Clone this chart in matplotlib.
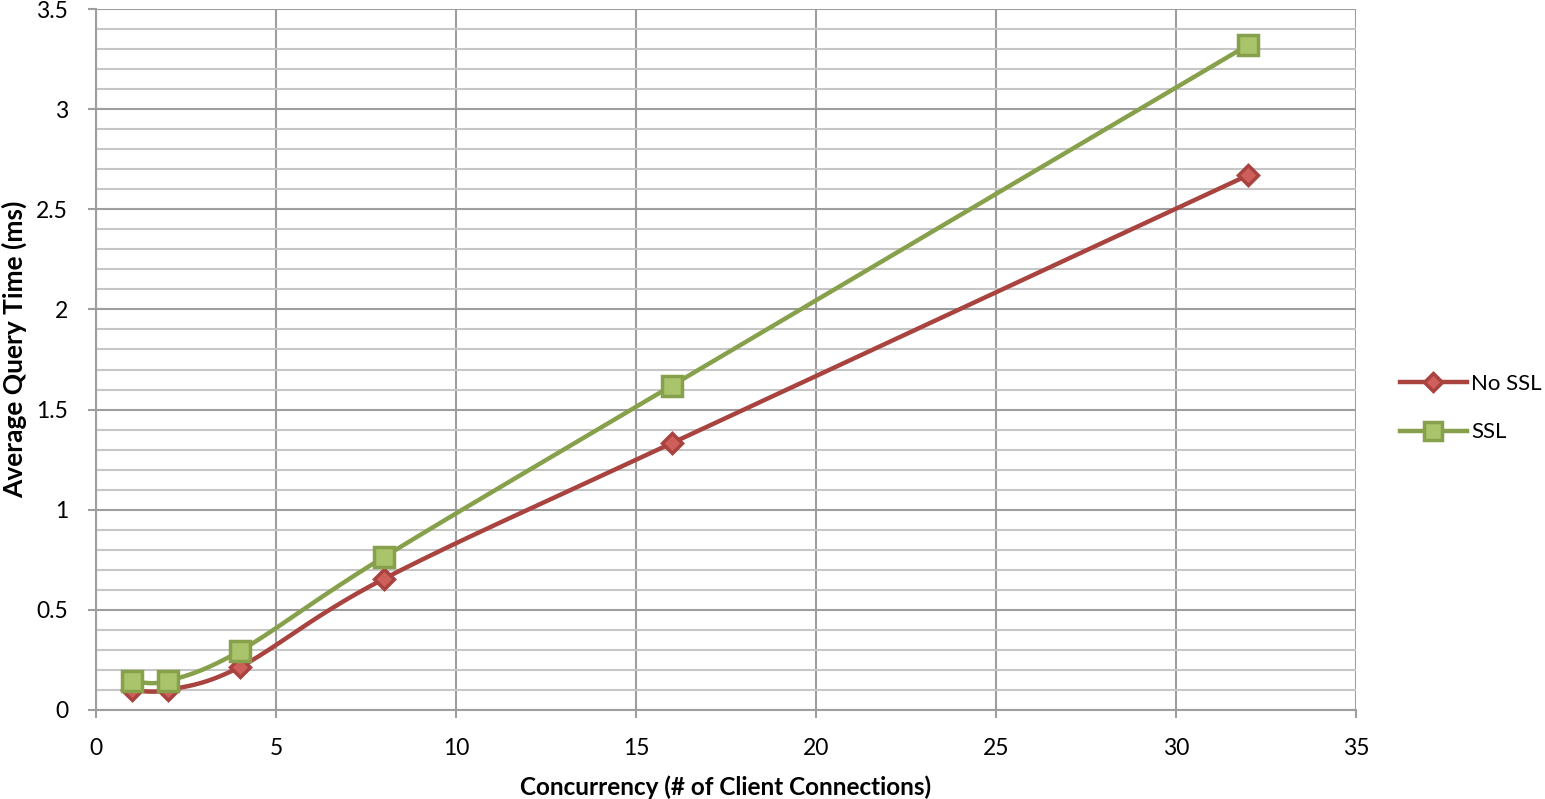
import numpy as np
import matplotlib
matplotlib.use('Agg')
import matplotlib.pyplot as plt
from matplotlib.lines import Line2D

plt.rcParams['font.family'] = ['Lato', 'DejaVu Sans']

concurrency = [1, 2, 4, 8, 16, 32]
no_ssl = [0.10, 0.10, 0.215, 0.655, 1.333, 2.67]
ssl = [0.145, 0.145, 0.295, 0.764, 1.62, 3.32]

def smooth(xs, ys, n=30):
    # Excel-style smoothed line: cubic bezier with catmull-rom control points
    p = np.column_stack([xs, ys]).astype(float)
    out = [p[0]]
    for i in range(len(p) - 1):
        p0 = p[i - 1] if i > 0 else p[i]
        p3 = p[i + 2] if i + 2 < len(p) else p[i + 1]
        c1 = p[i] + (p[i + 1] - p0) / 6.0
        c2 = p[i + 1] - (p3 - p[i]) / 6.0
        t = np.linspace(0, 1, n)[1:, None]
        seg = ((1 - t) ** 3 * p[i] + 3 * (1 - t) ** 2 * t * c1
               + 3 * (1 - t) * t ** 2 * c2 + t ** 3 * p[i + 1])
        out.extend(seg)
    out = np.array(out)
    return out[:, 0], out[:, 1]

fig = plt.figure(figsize=(15.45, 7.99), dpi=100)
ax = fig.add_axes([96 / 1545, 89 / 799, 1260 / 1545, 701 / 799])

series = [
    ("No SSL", no_ssl, '#A9433F', 'D', '#CF5F5B', 10),
    ("SSL", ssl, '#87A04B', 's', '#AAC46C', 14),
]
handles = []
for name, ys, lc, mk, fc, ms in series:
    sx, sy = smooth(concurrency, ys)
    ax.plot(sx, sy, color=lc, lw=3.2, solid_capstyle='round', zorder=3)
    ax.plot(concurrency, ys, ls='none', marker=mk, ms=ms, mfc=fc, mec=lc,
            mew=2.5, zorder=4)
    handles.append(Line2D([], [], color=lc, lw=3.2, marker=mk, ms=ms * 0.95,
                          mfc=fc, mec=lc, mew=2.5, label=name))

ax.set_xlim(0, 35)
ax.set_ylim(0, 3.5)
ax.set_xticks(np.arange(0, 36, 5))
ax.set_yticks(np.arange(0, 3.51, 0.5))
ax.set_yticklabels(['0', '0.5', '1', '1.5', '2', '2.5', '3', '3.5'])
ax.set_yticks(np.arange(0, 3.51, 0.1), minor=True)
ax.grid(which='major', color='#9E9E9E', lw=1.5, zorder=0)
ax.grid(which='minor', axis='y', color='#C6C6C6', lw=1.5, zorder=0)
ax.tick_params(which='major', length=6, width=1.5, color='#9E9E9E',
               labelsize=16.5)
ax.tick_params(axis='x', pad=14)
ax.tick_params(axis='y', pad=14)
ax.tick_params(which='minor', length=0)
for s in ['top', 'right']:
    ax.spines[s].set_visible(False)
for s in ['left', 'bottom']:
    ax.spines[s].set_color('#9E9E9E')
    ax.spines[s].set_linewidth(1.5)

ax.set_xlabel('Concurrency (# of Client Connections)', fontsize=17.5,
              fontweight='bold', labelpad=12)
ax.set_ylabel('Average Query Time (ms)', fontsize=19, fontweight='bold')
ax.yaxis.set_label_coords(-0.055, 0.515)

fig.legend(handles=handles, loc='center left',
           bbox_to_anchor=(1389 / 1545, 1 - 408 / 799), borderpad=0,
           frameon=False, fontsize=16, handlelength=3.0, labelspacing=1.3,
           handletextpad=0.2)

fig.savefig('out.png', dpi=100)
